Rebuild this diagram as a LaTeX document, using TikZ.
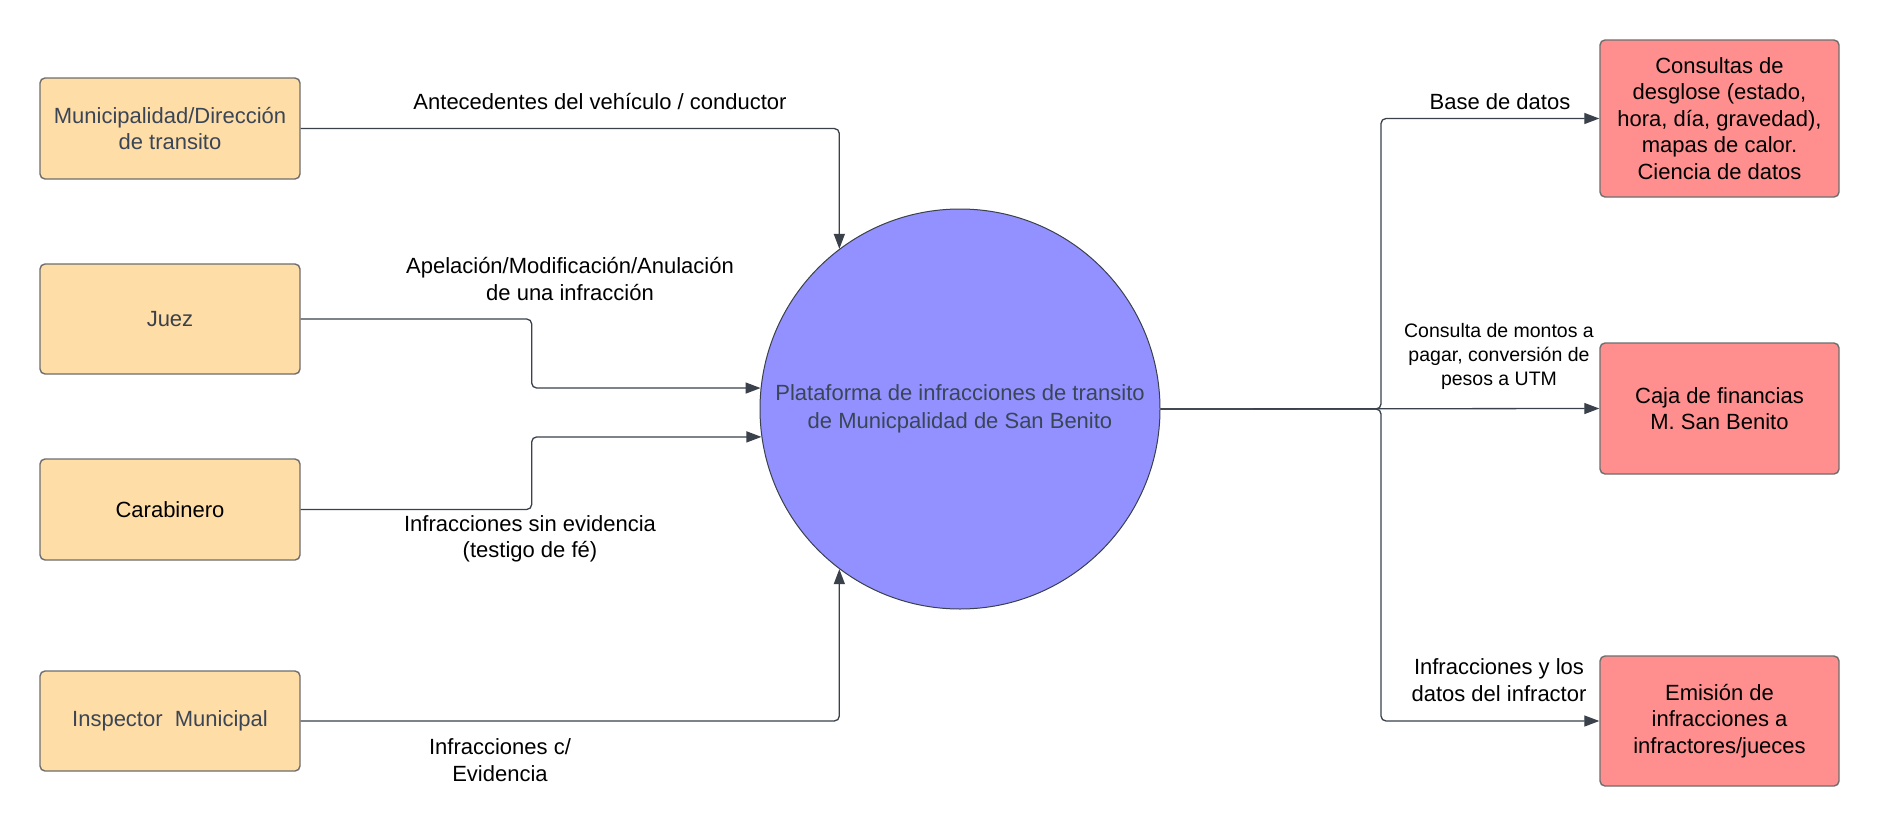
\documentclass[tikz,border=0pt]{standalone}
\usepackage{fontspec}
\setmainfont{Liberation Sans}
\usetikzlibrary{arrows.meta}
\definecolor{lfill}{HTML}{FFDDA6}
\definecolor{rfill}{HTML}{FF8F8F}
\definecolor{cfill}{HTML}{9391FF}
\definecolor{lnc}{HTML}{3A414A}
\definecolor{bdr}{HTML}{6E6E6E}
\definecolor{slate}{HTML}{3A4556}
\tikzset{
  box/.style={draw=bdr, line width=1.4pt, rounded corners=5pt, minimum width=260pt, align=center, font=\fontsize{22}{26.6}\selectfont},
  lbox/.style={box, fill=lfill, minimum width=260pt},
  rbox/.style={box, fill=rfill, minimum width=239pt, text=black},
  conn/.style={draw=lnc, line width=1.3pt, rounded corners=5pt, -{Triangle[length=15pt,width=11pt]}},
  lbl/.style={align=center, font=\fontsize{22}{26.6}\selectfont, text=black},
  slbl/.style={align=center, font=\fontsize{19.5}{24}\selectfont, text=black}
}
\begin{document}
\begin{tikzpicture}[x=1pt,y=-1pt]
\useasboundingbox (0,0) rectangle (1880,830);
\fill[white] (0,0) rectangle (1880,830);
% left boxes
\node[lbox, minimum height=101pt, text=slate] (m) at (170,128.5) {Municipalidad/Dirección\\de transito};
\node[lbox, minimum height=110pt, text=lnc] (j) at (170,319) {Juez};
\node[lbox, minimum height=101pt, text=black] (cb) at (170,509.5) {Carabinero};
\node[lbox, minimum height=100pt, text=slate] (i) at (170,721) {Inspector\ \ Municipal};
% circle
\node[circle, draw=lnc, line width=1pt, fill=cfill, minimum size=400pt, inner sep=0pt, align=center, text=slate, font=\fontsize{22}{27.5}\selectfont] (c) at (960,409) {Plataforma de infracciones de transito\\de Municpalidad de San Benito};
% right boxes
\node[rbox, minimum height=157pt] (ra) at (1719.5,118.5) {Consultas de\\desglose (estado,\\hora, día, gravedad),\\mapas de calor.\\Ciencia de datos};
\node[rbox, minimum height=131pt] (rb) at (1719.5,408.5) {Caja de financias\\M. San Benito};
\node[rbox, minimum height=130pt] (rc) at (1719.5,721) {Emisión de\\infracciones a\\infractores/jueces};
% left connectors
\draw[conn] (m.east) -| (c.127.6);
\draw[conn] (j.east) -- ++(231,0) |- (c.174.3);
\draw[conn] (cb.east) -- ++(231,0) |- (c.188.9);
\draw[conn] (i.east) -| (c.233.5);
% right connectors
\coordinate (jn) at (1381,409);
\draw[conn] (c.east) -- (jn) |- (ra.west);
\draw[conn] (c.east) -- (rb.west);
\draw[conn] (c.east) -- (jn) |- (rc.west);
% labels
\node[lbl] (l1) at (600,102) {Antecedentes del vehículo / conductor};
\node[lbl] (l2) at (570,279) {Apelación/Modificación/Anulación\\de una infracción};
\node[lbl] (l3) at (530,539) {Infracciones sin evidencia\\(testigo de fé)};
\node[lbl] (l4) at (500,760) {Infracciones c/\\Evidencia};
\node[lbl] (r1) at (1500,102) {Base de datos};
\node[slbl] (r2) at (1499,356) {Consulta de montos a\\pagar, conversión de\\pesos a UTM};
\node[lbl] (r3) at (1499,680) {Infracciones y los\\datos del infractor};
\end{tikzpicture}
\end{document}
